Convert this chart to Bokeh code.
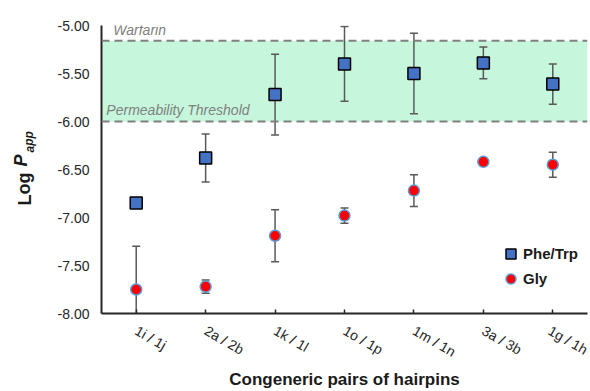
from bokeh.plotting import figure
from bokeh.models import (ColumnDataSource, FactorRange, Range1d, FixedTicker,
                          NumeralTickFormatter, BoxAnnotation, Span, Label,
                          Legend, LegendItem)
from bokeh.embed import file_html
from bokeh.resources import INLINE

# ---- data ----
pairs = ["1i / 1j", "2a / 2b", "1k / 1l", "1o / 1p", "1m / 1n", "3a / 3b", "1g / 1h"]
phe_trp = [-6.85, -6.38, -5.72, -5.40, -5.50, -5.39, -5.61]
phe_trp_err = [0.0, 0.25, 0.42, 0.39, 0.42, 0.165, 0.21]
gly = [-7.75, -7.72, -7.19, -6.98, -6.72, -6.42, -6.45]
gly_err = [0.45, 0.07, 0.27, 0.08, 0.165, 0.0, 0.13]
y_ticks = [-8.0, -7.5, -7.0, -6.5, -6.0, -5.5, -5.0]
warfarin_level = -5.16
threshold_level = -6.0

FONT = "Liberation Sans"
BLUE = "#4472c4"
AXIS = "#262626"
GREY = "#808080"

p = figure(width=590, height=391, x_range=FactorRange(factors=pairs, range_padding=0),
           y_range=Range1d(-8.0, -5.0), output_backend="svg", toolbar_location=None,
           min_border_left=94, min_border_right=3, min_border_top=25, min_border_bottom=77)
p.outline_line_color = None
p.grid.visible = False
p.background_fill_color = "white"

# band and reference lines
p.add_layout(BoxAnnotation(bottom=threshold_level, top=warfarin_level,
                           fill_color="#c6f7dc", fill_alpha=1.0, line_color=None, level="underlay"))
for lvl in (warfarin_level, threshold_level):
    p.add_layout(Span(location=lvl, dimension="width", line_color=GREY,
                      line_width=2, line_dash="8 5"))

p.add_layout(Label(x=0.17, y=warfarin_level, text="Warfarin", text_font=FONT,
                   text_font_style="italic", text_font_size="14px", text_color=GREY,
                   text_baseline="alphabetic", y_offset=11))
p.add_layout(Label(x=0.07, y=threshold_level, text="Permeability Threshold", text_font=FONT,
                   text_font_style="italic", text_font_size="14px", text_color=GREY,
                   text_baseline="alphabetic", y_offset=12))


def err_source(vals, errs):
    xs, lo, hi = [], [], []
    for c, v, e in zip(pairs, vals, errs):
        if e > 0:
            xs.append(c)
            lo.append(v - e)
            hi.append(v + e)
    return ColumnDataSource(dict(x=xs, lower=lo, upper=hi))


for vals, errs in ((phe_trp, phe_trp_err), (gly, gly_err)):
    es = err_source(vals, errs)
    p.segment(x0="x", y0="lower", x1="x", y1="upper", source=es,
              line_color="#595959", line_width=1.5)
    p.scatter(x="x", y="lower", source=es, marker="dash", size=8,
              line_color="#595959", line_width=1.5)
    p.scatter(x="x", y="upper", source=es, marker="dash", size=8,
              line_color="#595959", line_width=1.5)

src = ColumnDataSource(dict(x=pairs, phe=phe_trp, gly=gly))
r_phe = p.scatter(x="x", y="phe", source=src, marker="square", size=12,
                  fill_color=BLUE, line_color="black", line_width=1.5)
r_gly = p.scatter(x="x", y="gly", source=src, marker="circle", size=11,
                  fill_color="#ff0000", line_color="#5b9bd5", line_width=1.5)

legend = Legend(items=[LegendItem(label="Phe/Trp", renderers=[r_phe]),
                       LegendItem(label="Gly", renderers=[r_gly])],
                location=(397, 22), padding=0, margin=0, spacing=0,
                glyph_width=25, glyph_height=25, label_height=25, label_standoff=0,
                label_text_font=FONT, label_text_font_style="bold",
                label_text_font_size="15px", label_text_color="#1a1a1a",
                background_fill_alpha=0, border_line_color=None)
p.add_layout(legend)

# axes
ya = p.yaxis[0]
ya.ticker = FixedTicker(ticks=y_ticks)
ya.formatter = NumeralTickFormatter(format="0.00")
ya.major_tick_in = 0
ya.major_tick_out = 0
ya.minor_tick_line_color = None
ya.axis_line_color = AXIS
ya.axis_line_width = 2
ya.major_label_text_font = FONT
ya.major_label_text_font_size = "14px"
ya.major_label_text_color = AXIS
ya.major_label_standoff = 12

xa = p.xaxis[0]
xa.major_tick_in = 4
xa.major_tick_out = 0
xa.major_tick_line_color = AXIS
xa.major_tick_line_width = 1.5
xa.axis_line_color = AXIS
xa.axis_line_width = 2
xa.major_label_orientation = -0.52
xa.major_label_text_font = FONT
xa.major_label_text_font_size = "14px"
xa.major_label_text_color = AXIS
xa.major_label_standoff = 16
xa.axis_label = "Congeneric pairs of hairpins"
xa.axis_label_text_font = FONT
xa.axis_label_text_font_style = "bold"
xa.axis_label_text_font_size = "17px"
xa.axis_label_text_color = "#1a1a1a"
xa.axis_label_standoff = 0

# y title "Log P_app", placed in the left side panel
p.add_layout(Label(x=-10, y=108, x_units="screen", y_units="screen", text="Log",
                   angle=1.5708, text_font=FONT, text_font_style="bold",
                   text_font_size="18px", text_color="#1a1a1a", text_baseline="alphabetic"), "left")
p.add_layout(Label(x=6, y=147, x_units="screen", y_units="screen", text="P",
                   angle=1.5708, text_font=FONT, text_font_style="bold italic",
                   text_font_size="18px", text_color="#1a1a1a", text_baseline="alphabetic"), "left")
p.add_layout(Label(x=29, y=161, x_units="screen", y_units="screen", text="app",
                   angle=1.5708, text_font=FONT, text_font_style="bold italic",
                   text_font_size="12px", text_color="#1a1a1a", text_baseline="alphabetic"), "left")

open("out.html", "w").write(file_html(p, INLINE))
